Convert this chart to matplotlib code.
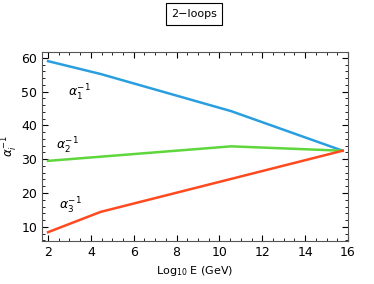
import matplotlib
matplotlib.use("Agg")
import matplotlib.pyplot as plt
from matplotlib.ticker import MultipleLocator

# log10 E (GeV) and inverse couplings
x1 = [2.0, 4.45, 10.55, 15.75]
a1 = [59.0, 55.2, 44.2, 32.5]
x2 = [2.0, 10.55, 15.75]
a2 = [29.5, 33.8, 32.5]
x3 = [2.0, 4.45, 15.75]
a3 = [8.4, 14.4, 32.5]

fig = plt.figure(figsize=(3.74, 2.84), dpi=100)
ax = fig.add_axes([42/374, 1-241/284, 306/374, 189/284])

ax.plot(x1, a1, color="#2a9fe0", lw=1.8)
ax.plot(x2, a2, color="#5fd63c", lw=1.8)
ax.plot(x3, a3, color="#ff4a20", lw=1.8)

ax.text(2.95, 49.6, r"$\alpha_1^{-1}$", fontsize=9, va="center")
ax.text(2.35, 33.9, r"$\alpha_2^{-1}$", fontsize=9, va="center")
ax.text(2.5, 16.1, r"$\alpha_3^{-1}$", fontsize=9, va="center")

ax.set_xlim(1.72, 16)
ax.set_ylim(5.8, 61.7)
ax.xaxis.set_major_locator(MultipleLocator(2))
ax.xaxis.set_minor_locator(MultipleLocator(0.5))
ax.yaxis.set_major_locator(MultipleLocator(10))
ax.yaxis.set_minor_locator(MultipleLocator(2))
ax.tick_params(which="both", direction="in", top=True, right=True, labelsize=9)
ax.tick_params(which="major", length=4)
ax.tick_params(which="minor", length=2)
for s in ax.spines.values():
    s.set_color("#555555")

ax.set_xlabel(r"Log$_{10}$ E (GeV)", fontsize=8)
ax.set_ylabel(r"$\alpha_i^{-1}$", fontsize=8.5)
ax.yaxis.set_label_coords(-0.072, 0.5)

fig.text(194/374, 1-14/284, "2\u2212loops", ha="center", va="center", fontsize=8,
         bbox=dict(boxstyle="square,pad=0.5", fc="white", ec="black", lw=0.8))

fig.savefig("out.png", dpi=100)
